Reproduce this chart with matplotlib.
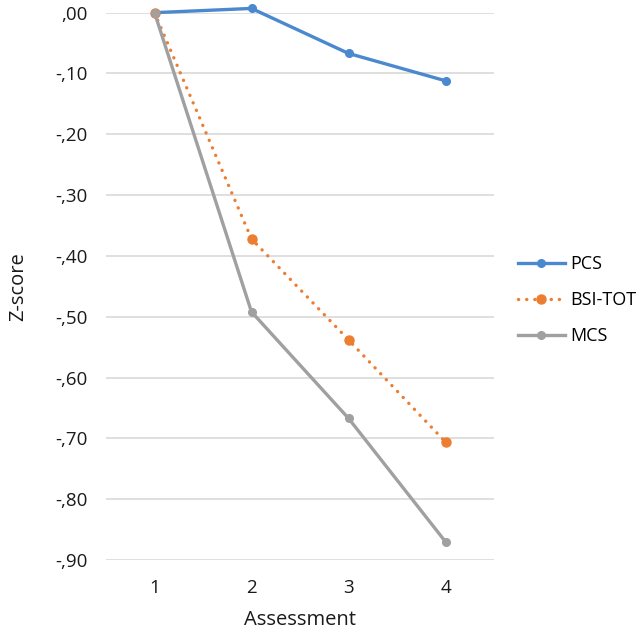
import matplotlib.pyplot as plt
from matplotlib.ticker import FuncFormatter, MultipleLocator

assessment = [1, 2, 3, 4]
pcs = [0.0, 0.007, -0.067, -0.112]
bsi_tot = [0.0, -0.372, -0.538, -0.706]
mcs = [0.0, -0.492, -0.667, -0.870]

plt.rcParams['font.family'] = ['Open Sans', 'DejaVu Sans']

fig = plt.figure(figsize=(6.44, 6.34), dpi=100)
ax = fig.add_axes([0.1646, 0.1167, 0.6025, 0.8633])

ax.plot(assessment, pcs, color="#4a89cf", lw=2.4, marker="o", ms=5.5,
        label="PCS", clip_on=False, zorder=3)
ax.plot(assessment, bsi_tot, color="#ed7d31", lw=2.4, ls=(0, (0.05, 2.4)),
        dash_capstyle="round", marker="o", ms=6.5, label="BSI-TOT",
        clip_on=False, zorder=3)
ax.plot(assessment, mcs, color="#a0a0a0", lw=2.4, marker="o", ms=5.5,
        label="MCS", clip_on=False, zorder=3)

ax.set_xlim(0.5, 4.5)
ax.set_ylim(-0.9, 0.0)
ax.set_xticks(assessment)
ax.yaxis.set_major_locator(MultipleLocator(0.1))


def fmt(v, pos):
    s = "%.2f" % round(v, 2)
    if s == "-0.00":
        s = "0.00"
    return s.replace("0.", ",", 1)


ax.yaxis.set_major_formatter(FuncFormatter(fmt))
ax.grid(axis="y", color="#d9d9d9", lw=1.2)
ax.set_axisbelow(True)
for sp in ax.spines.values():
    sp.set_visible(False)
ax.tick_params(length=0, labelsize=13.5, labelcolor="#1a1a1a")
ax.tick_params(axis="y", pad=13)
ax.tick_params(axis="x", pad=14)

ax.set_xlabel("Assessment", fontsize=14.5, labelpad=9, color="#1a1a1a")
ax.set_ylabel("Z-score", fontsize=14.5, labelpad=20, color="#1a1a1a")

ax.legend(loc="center left", bbox_to_anchor=(1.02, 0.475), frameon=False,
          fontsize=13, handlelength=2.6, handletextpad=0.3, labelspacing=1.0)

fig.savefig("out.png", dpi=100)
